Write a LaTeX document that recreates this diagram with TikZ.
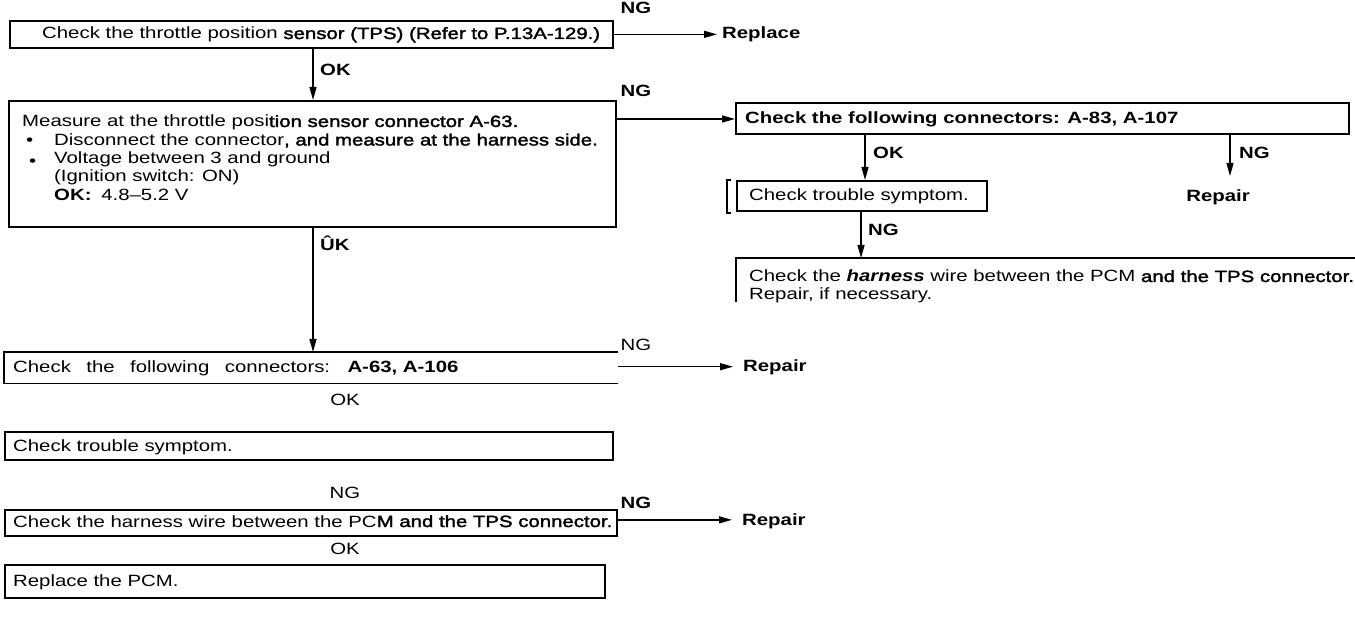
\documentclass[tikz,border=0pt]{standalone}
\usepackage{fontspec}
\setmainfont{Liberation Sans}[FakeStretch=1.25]
\newfontfamily\fbold{Liberation Sans}[FakeStretch=1.25,FakeBold=2]
\usetikzlibrary{arrows.meta,calc}
\newcommand\fsz{\fontsize{16.3}{18.5}\selectfont}
\tikzset{
  box/.style={draw, line width=1.7pt, anchor=north west, inner sep=0pt},
  openbox/.style={draw=none, anchor=north west, inner sep=0pt},
  boxline/.style={line width=1.7pt},
  txt/.style={anchor=base west, inner sep=0pt, font=\fsz},
  btxt/.style={anchor=base west, inner sep=0pt, font=\fsz\bfseries},
  lab/.style={anchor=base, inner sep=0pt, font=\fsz},
  blab/.style={anchor=base, inner sep=0pt, font=\fsz\bfseries},
  arr/.style={line width=1.3pt, -{Triangle[length=13pt,width=7pt]}},
  plain/.style={line width=1.3pt}
}
\begin{document}
\begin{tikzpicture}[x=1pt,y=-1pt]
\fill[white] (0,0) rectangle (1355,617);
\useasboundingbox (0,0) rectangle (1355,617);

% column x positions
\coordinate (cx) at (313,0);
\coordinate (cok) at (865,0);
\coordinate (cng) at (1230,0);
\coordinate (cng2) at (861,0);
\coordinate (xrep1) at (717,0);
\coordinate (xrep2) at (733,0);
\coordinate (xrep3) at (732,0);

% ---------- left column boxes ----------
\node[box, minimum width=603pt, minimum height=27pt] (b1) at (9,20) {};
\node[box, minimum width=607pt, minimum height=126pt] (b2) at (8,100) {};
\node[openbox, minimum width=614pt, minimum height=31pt] (b3) at (4,352) {};
\draw[boxline] (b3.north east) -- (b3.north west) -- (b3.south west) -- (b3.south east);
\node[box, minimum width=608pt, minimum height=28pt] (b4) at (4,431) {};
\node[box, minimum width=612pt, minimum height=26pt] (b5) at (4,509) {};
\node[box, minimum width=600pt, minimum height=33pt] (b6) at (4,564) {};

% texts
\node[txt] (t1) at (42,39) {Check the throttle position {\fbold sensor (TPS) (Refer to P.13A-129.)}};
\node[txt] (t2a) at (22,127) {Measure at the throttle posi{\fbold tion sensor connector A-63.}};
\node[txt] (t2bb) at (26,145.5) {•};
\node[txt] (t2b) at (54,145.5) {Disconnect the connector{\fbold, and measure at the harness side.}};
\node[txt] (t2cb) at (29,167) {•};
\node[txt] (t2c) at (54,164) {Voltage between 3 and ground};
\node[txt] (t2d) at (54,182) {(Ignition switch: ON)};
\node[txt] (t2e) at (54,200.5) {\textbf{OK:}\hspace{0.6em}4.8--5.2 V};
\node[txt] (t3) at (13,373) {Check\hspace{0.6em} the\hspace{0.6em} following\hspace{0.6em} connectors:\hspace{0.6em} \textbf{A-63, A-106}};
\node[txt] (t4) at (13,451) {Check trouble symptom.};
\node[txt] (t5) at (13,527) {Check the harness wire between the PC{\fbold M and the TPS connector.}};
\node[txt] (t6) at (13,586) {Replace the PCM.};

% labels
\node[blab] (ng1) at (636,14) {NG};
\node[btxt] (rep1) at (722,39) {Replace};
\node[btxt] (ok1) at (320,76) {OK};
\node[blab] (ng2) at (636,97) {NG};
\node[btxt] (ok2) at (320,251) {ÛK};
\node[lab] (ng3) at (636,351) {NG};
\node[btxt] (rep2) at (743,372) {Repair};
\node[lab] (ok3) at (345,406) {OK};
\node[lab] (ng4) at (345,498) {NG};
\node[blab] (ng5) at (636,508) {NG};
\node[btxt] (rep3) at (742,525) {Repair};
\node[lab] (ok5) at (345,554) {OK};

% ---------- right column ----------
\node[box, minimum width=613pt, minimum height=31pt] (r1) at (735,102) {};
\node[btxt] (tr1) at (745,124) {Check the following connectors: A-83, A-107};
\node[box, minimum width=250pt, minimum height=30pt] (r2) at (736,180) {};
\node[txt] (tr2) at (749,201) {Check trouble symptom.};
\draw[plain] (731,180) -- (727,180) -- (727,213) -- (731,213);
\node[openbox, minimum width=619pt, minimum height=44pt] (r3) at (736,258) {};
\draw[boxline] (r3.north east) -- (r3.north west) -- (r3.south west);
\node[txt] (tr3a) at (749,282) {Check the \textbf{\textit{harness}} wire between the PCM {\fbold and the TPS connector.}};
\node[txt] (tr3b) at (749,300) {Repair, if necessary.};

\node[btxt] (okr) at (873,159) {OK};
\node[btxt] (ngr) at (1239,159) {NG};
\node[blab] (repr) at (1218,202) {Repair};
\node[btxt] (ngr2) at (868,236) {NG};
\coordinate (repTop) at (1230,176);

% ---------- connector start points ----------
\coordinate (s2) at ($(b2.north east)+(0,19)$);
\coordinate (s3) at ($(b3.east)+(0,-1)$);
\coordinate (s5) at ($(b5.east)+(0,-3)$);

% ---------- connectors ----------
\draw[arr] (b1.east) -- (b1.east -| xrep1);
\draw[arr] (b1.south -| cx) -- (b2.north -| cx);
\draw[arr] (s2) -- (s2 -| r1.west);
\draw[arr] (b2.south -| cx) -- (b3.north -| cx);
\draw[arr] (s3) -- (s3 -| xrep2);
\draw[arr] (s5) -- (s5 -| xrep3);

\draw[arr] (r1.south -| cok) -- (r2.north -| cok);
\draw[arr] (r1.south -| cng) -- (repTop);
\draw[arr] (r2.south -| cng2) -- (r3.north -| cng2);
\end{tikzpicture}
\end{document}
